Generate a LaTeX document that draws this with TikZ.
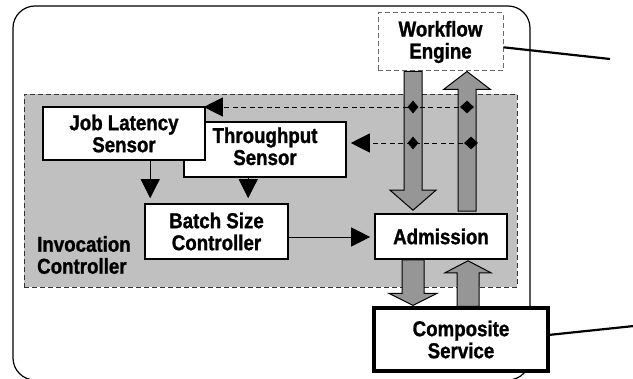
\documentclass[tikz,border=0pt]{standalone}
\usepackage{fontspec}
\setmainfont[FakeStretch=0.87,BoldFeatures={FakeBold=1.2}]{Liberation Sans}
\usetikzlibrary{arrows.meta,shapes.geometric,calc}

\definecolor{regiongray}{HTML}{C0C0C0}
\definecolor{flowgray}{HTML}{969696}
\definecolor{dashgray}{HTML}{6A6A6A}

% vertical block arrow: from, to, shaft half width, head half width, head length
\newcommand\flowarrow[5]{%
  \path[blockarr] let \p1=(#1), \p2=(#2), \n1={(\y1-\y2)/abs(\y1-\y2)} in
    (\x1-#3,\y1) -- (\x1-#3,\y2+\n1*#5) -- (\x1-#4,\y2+\n1*#5) -- (\x2,\y2)
    -- (\x1+#4,\y2+\n1*#5) -- (\x1+#3,\y2+\n1*#5) -- (\x1+#3,\y1) -- cycle;}

\begin{document}
\begin{tikzpicture}[x=1pt,y=-1pt,
  font=\fontsize{21.5}{22}\selectfont\bfseries,
  box/.style={draw=black, line width=1.6pt, fill=white, align=center, inner sep=0pt},
  sig/.style={line width=0.8pt, -{Triangle[length=19pt,width=19pt]}},
  probe/.style={sig, dash pattern=on 5pt off 3.5pt},
  tap/.style={diamond, fill=black, inner sep=0pt, minimum height=13pt, minimum width=#1},
  tap/.default=11pt,
  blockarr/.style={draw=black, line width=1pt, fill=flowgray, line join=miter},
  link/.style={line width=2.2pt}
]
\useasboundingbox (0,0) rectangle (633,379);

% enclosing host frame
\node[draw=black, line width=1.2pt, rounded corners=22pt, inner sep=0pt,
      minimum width=517pt, minimum height=374pt] (frame) at (271.5,193) {};

% invocation controller region
\node[fill=regiongray, draw=black!80, line width=0.9pt, dash pattern=on 5pt off 3pt,
      inner sep=0pt, minimum width=493pt, minimum height=193pt] (ctrl) at (270.5,190.5) {};
\node[anchor=west, align=left, inner sep=0pt] (ctrllabel) at (37,255)
  {Invocation\\Controller};

% components
\node[draw=dashgray, line width=1pt, dash pattern=on 5pt off 3pt, fill=white,
      align=center, inner sep=0pt, minimum width=125pt, minimum height=58pt]
      (wf) at (440.5,42) {Workflow\\Engine};
\node[box, minimum width=162pt, minimum height=55pt] (tp) at (265,149.5)
  {\raisebox{-3pt}{\begin{tabular}{@{}c@{}}Throughput\\Sensor\end{tabular}}};
\node[box, minimum width=162pt, minimum height=53pt] (jl) at (124,133.5)
  {Job Latency\\Sensor};
\node[box, minimum width=143pt, minimum height=55pt] (bs) at (216.5,231.5)
  {Batch Size\\Controller};
\node[box, minimum width=132pt, minimum height=45pt] (adm) at (441,236.5)
  {Admission};
\node[box, line width=3.2pt, minimum width=174pt, minimum height=63pt] (comp)
  at (461,339.5) {Composite\\Service};

% request / response flows
\coordinate (xa) at (413,0);
\coordinate (xb) at (467,0);
\coordinate (xc) at (468,0);
\flowarrow{xa |- wf.south}{$(xa |- adm.north)+(0,-3)$}{9pt}{23pt}{20pt}
\flowarrow{$(xb |- adm.north)+(0,-2)$}{xb |- wf.south}{9pt}{23.5pt}{18pt}
\flowarrow{xa |- adm.south}{$(xa |- comp.north)+(0,-1)$}{11pt}{24pt}{12pt}
\flowarrow{xc |- comp.north}{$(xc |- adm.south)+(0,1)$}{11pt}{23pt}{12pt}

% measurement taps feeding the sensors
\coordinate (t1) at (467,107);
\coordinate (t2) at (413,107);
\coordinate (t3) at (413,143);
\coordinate (t4) at (471,143);
\draw[probe] (t1) -- ($(t1 -| jl.east)+(-2,0)$);
\draw[probe] (t4) -- ($(t4 -| tp.east)+(4,0)$);
\node[tap=14pt] (d1) at (t1) {};
\node[tap] (d2) at (t2) {};
\node[tap] (d3) at (t3) {};
\node[tap=14pt] (d4) at (t4) {};

% control signals
\coordinate (jlout) at ($(jl.south west)+(108,0)$);
\coordinate (tpout) at ($(tp.south west)+(65,0)$);
\coordinate (bsout) at ($(bs.east)+(0,5.5)$);
\draw[sig] (jlout) -- ($(jlout |- bs.north)+(0,-5)$);
\draw[sig] (tpout) -- ($(tpout |- bs.north)+(0,-5)$);
\draw[sig] (bsout) -- ($(bsout -| adm.west)+(-4,0)$);

% callout leaders
\coordinate (wfend) at (610,59);
\coordinate (compend) at (634,326);
\draw[link] ($(wf.north east)!0.59!(wf.south east)$) -- (wfend);
\draw[link] ($(comp.north east)!0.43!(comp.south east)$) -- (compend);
\end{tikzpicture}
\end{document}
